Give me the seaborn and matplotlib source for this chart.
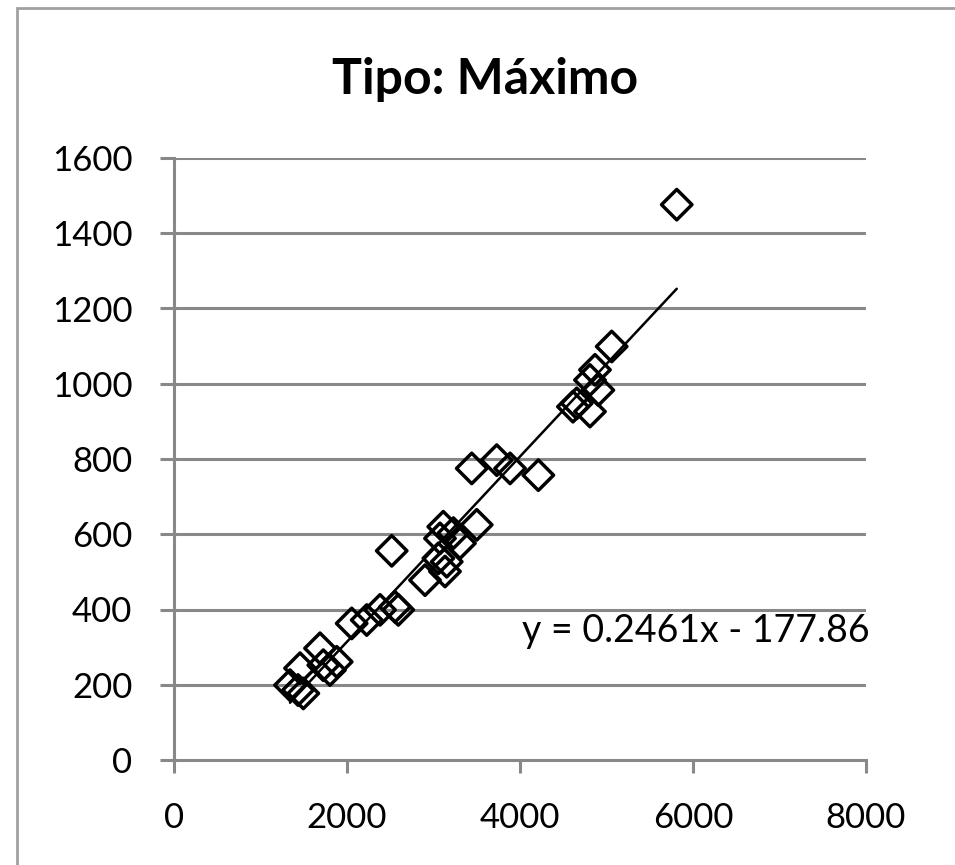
import matplotlib
matplotlib.use("Agg")
import matplotlib.pyplot as plt
import seaborn as sns
import numpy as np
import pandas as pd
from matplotlib.patches import Rectangle

# ---- data ----
x_vals = [1341, 1434, 1457, 1495, 1688, 1726, 1803, 1881, 2054, 2228,
          2382, 2555, 2593, 2517, 2902, 3056, 3075, 3113, 3133, 3153,
          3230, 3306, 3500, 3442, 3731, 3885, 4212, 4612, 4656, 4809,
          4809, 4867, 4906, 5060, 5812]
y_vals = [199, 186, 244, 177, 297, 252, 239, 261, 363, 372,
          399, 407, 399, 556, 478, 536, 589, 620, 501, 527,
          603, 576, 625, 775, 797, 775, 757, 939, 948, 926,
          1010, 1037, 983, 1099, 1476]
slope = 0.2461
intercept = -177.86
title_text = "Tipo: Máximo"
equation_text = "y = 0.2461x - 177.86"
x_ticks = [0, 2000, 4000, 6000, 8000]
y_ticks = [0, 200, 400, 600, 800, 1000, 1200, 1400, 1600]

df = pd.DataFrame({"x": x_vals, "y": y_vals})

sns.set_theme(style="white")
plt.rcParams["font.family"] = ["Lato", "DejaVu Sans"]

W, H = 955, 865
fig = plt.figure(figsize=(W / 100, H / 100), dpi=100)
ax = fig.add_axes([174 / W, 105 / H, 692 / W, 602 / H])

grid_col = "#888888"
for yt in y_ticks[1:]:
    ax.axhline(yt, color=grid_col, lw=2.2, zorder=0)

sns.scatterplot(data=df, x="x", y="y", ax=ax, marker="D", s=240,
                facecolor="none", edgecolor="black", linewidth=2.5, zorder=3)

xl = np.array([min(x_vals), max(x_vals)])
ax.plot(xl, slope * xl + intercept, color="black", lw=1.8, zorder=2)

ax.set_xlim(0, 8000)
ax.set_ylim(0, 1600)
ax.set_xticks(x_ticks)
ax.set_yticks(y_ticks)
ax.set_xlabel("")
ax.set_ylabel("")

for side in ["top", "right"]:
    ax.spines[side].set_visible(False)
for side in ["left", "bottom"]:
    ax.spines[side].set_color(grid_col)
    ax.spines[side].set_linewidth(2.2)

ax.tick_params(axis="y", direction="out", length=10, width=2.2, color=grid_col,
               pad=20, labelsize=25, labelcolor="black", left=True)
ax.tick_params(axis="x", direction="out", length=9, width=2.2, color=grid_col,
               pad=21, labelsize=25, labelcolor="black", bottom=True)

ax.text((522 - 174) / 692, (760 - 642) / 602, equation_text,
        transform=ax.transAxes, fontsize=27, va="baseline", ha="left",
        color="black")

fig.text(485 / W, 1 - 79 / H, title_text, fontsize=36, fontweight="bold",
         ha="center", va="center", color="black")

fig.patches.append(Rectangle((17 / W, -0.05), 1.2, 1 - 8 / H + 0.05,
                             transform=fig.transFigure, fill=False,
                             edgecolor="#a0a0a0", lw=2, zorder=10))

fig.savefig("out.png", dpi=100)
